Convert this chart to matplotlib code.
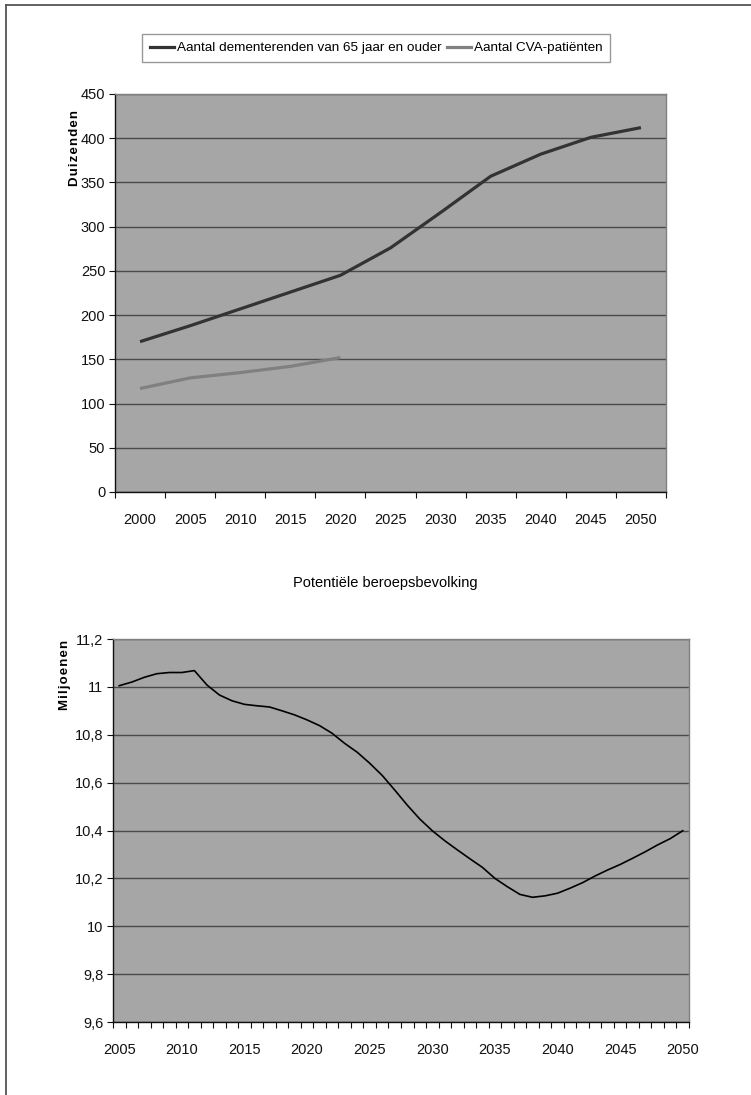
import matplotlib
matplotlib.use("Agg")
import matplotlib.pyplot as plt
from matplotlib.lines import Line2D
import numpy as np

# --- data -------------------------------------------------------------
years_top = ["2000", "2005", "2010", "2015", "2020", "2025",
             "2030", "2035", "2040", "2045", "2050"]
dementia = [170, 188, 207, 226, 245, 276, 316, 357, 382, 401, 412]
cva = [117, 129, 135, 142, 152]

years_bottom = list(range(2005, 2051))
labour_force = [11.005, 11.02, 11.04, 11.055, 11.06, 11.06, 11.068, 11.008,
                10.966, 10.942, 10.927, 10.921, 10.916, 10.900, 10.883, 10.862,
                10.838, 10.806, 10.764, 10.727, 10.681, 10.630, 10.569, 10.506,
                10.448, 10.399, 10.357, 10.319, 10.282, 10.246, 10.200, 10.165,
                10.133, 10.121, 10.127, 10.138, 10.159, 10.182, 10.210, 10.235,
                10.258, 10.284, 10.311, 10.340, 10.366, 10.399]

top_yticks = list(range(0, 451, 50))
bottom_yticks = [9.6, 9.8, 10.0, 10.2, 10.4, 10.6, 10.8, 11.0, 11.2]
bottom_ylabels = ["9,6", "9,8", "10", "10,2", "10,4", "10,6", "10,8", "11", "11,2"]

legend_labels = ["Aantal dementerenden van 65 jaar en ouder", "Aantal CVA-patiënten"]

# --- styling ----------------------------------------------------------
plt.rcParams["font.family"] = ["Liberation Sans", "DejaVu Sans"]
W, H = 751, 1095
PLOT_BG = "#a6a6a6"
GRID = "#4a4a4a"
TICK_FS = 10.5
HS = "\u200a"  # hair space used to open up the axis titles

fig = plt.figure(figsize=(W / 100, H / 100), dpi=100)


def px_axes(left, top, right, bottom):
    return fig.add_axes([left / W, 1 - bottom / H, (right - left) / W, (bottom - top) / H])


def style_axes(ax):
    ax.set_facecolor(PLOT_BG)
    ax.spines["left"].set_color("#111111")
    ax.spines["bottom"].set_color("#111111")
    ax.spines["top"].set_color("#808080")
    ax.spines["right"].set_color("#808080")
    for s in ax.spines.values():
        s.set_linewidth(1.0)
    ax.yaxis.grid(True, color=GRID, linewidth=1.0)
    ax.set_axisbelow(True)
    ax.tick_params(axis="y", length=4, width=0.8, pad=3, labelsize=TICK_FS, colors="#111111")
    ax.tick_params(axis="x", which="minor", length=4, width=0.8, direction="out", colors="#111111")
    ax.tick_params(axis="x", which="major", length=0, labelsize=TICK_FS, colors="#111111")


def spaced(word):
    return HS.join(word)


# --- top chart ---------------------------------------------------------
ax1 = px_axes(115, 94, 666, 492)
style_axes(ax1)
x_top = np.arange(len(years_top))
ax1.plot(x_top, dementia, color="#333333", linewidth=2.3, solid_capstyle="butt")
ax1.plot(np.arange(len(cva)), cva, color="#808080", linewidth=2.3, solid_capstyle="butt")
ax1.set_xlim(-0.5, len(years_top) - 0.5)
ax1.set_ylim(0, 450)
ax1.set_yticks(top_yticks)
ax1.set_xticks(x_top)
ax1.set_xticklabels(years_top)
ax1.set_xticks(np.arange(-0.5, len(years_top)), minor=True)
ax1.tick_params(axis="x", which="major", pad=15)

fig.text(75 / W, 1 - 148 / H, spaced("Duizenden"), rotation=90, ha="center", va="center",
         fontsize=9.5, fontweight="bold")

handles = [Line2D([], [], color="#333333", linewidth=2.3),
           Line2D([], [], color="#808080", linewidth=2.3)]
leg = fig.legend(handles, legend_labels, loc="center", ncol=2,
                 bbox_to_anchor=(376 / W, 1 - 48 / H), frameon=True, fancybox=False,
                 edgecolor="#808080", fontsize=9.7, handlelength=1.8, handletextpad=0.2,
                 columnspacing=0.4, borderpad=0.55, borderaxespad=0)
leg.get_frame().set_linewidth(1.0)

# --- bottom chart ------------------------------------------------------
fig.text(385 / W, 1 - 583 / H, "Potentiële beroepsbevolking", ha="center", va="center",
         fontsize=TICK_FS)

ax2 = px_axes(113, 639, 689, 1022)
style_axes(ax2)
x_bot = np.arange(len(years_bottom))
ax2.plot(x_bot, labour_force, color="#000000", linewidth=1.2)
ax2.set_xlim(-0.5, len(years_bottom) - 0.5)
ax2.set_ylim(9.6, 11.2)
ax2.set_yticks(bottom_yticks)
ax2.set_yticklabels(bottom_ylabels)
label_pos = [i for i, y in enumerate(years_bottom) if y % 5 == 0]
ax2.set_xticks(label_pos)
ax2.set_xticklabels([str(years_bottom[i]) for i in label_pos])
ax2.set_xticks(np.arange(-0.5, len(years_bottom)), minor=True)
ax2.tick_params(axis="x", which="major", pad=15)

fig.text(65 / W, 1 - 675 / H, spaced("Miljoenen"), rotation=90, ha="center", va="center",
         fontsize=9.5, fontweight="bold")

# --- page frame (top and left edges) ----------------------------------
fig.add_artist(Line2D([6.5 / W, 6.5 / W], [0, 1 - 5 / H], color="#555555", linewidth=1.3,
                      transform=fig.transFigure))
fig.add_artist(Line2D([6.5 / W, 1], [1 - 5 / H, 1 - 5 / H], color="#555555", linewidth=1.3,
                      transform=fig.transFigure))

fig.savefig("out.png", dpi=100, facecolor="white")
